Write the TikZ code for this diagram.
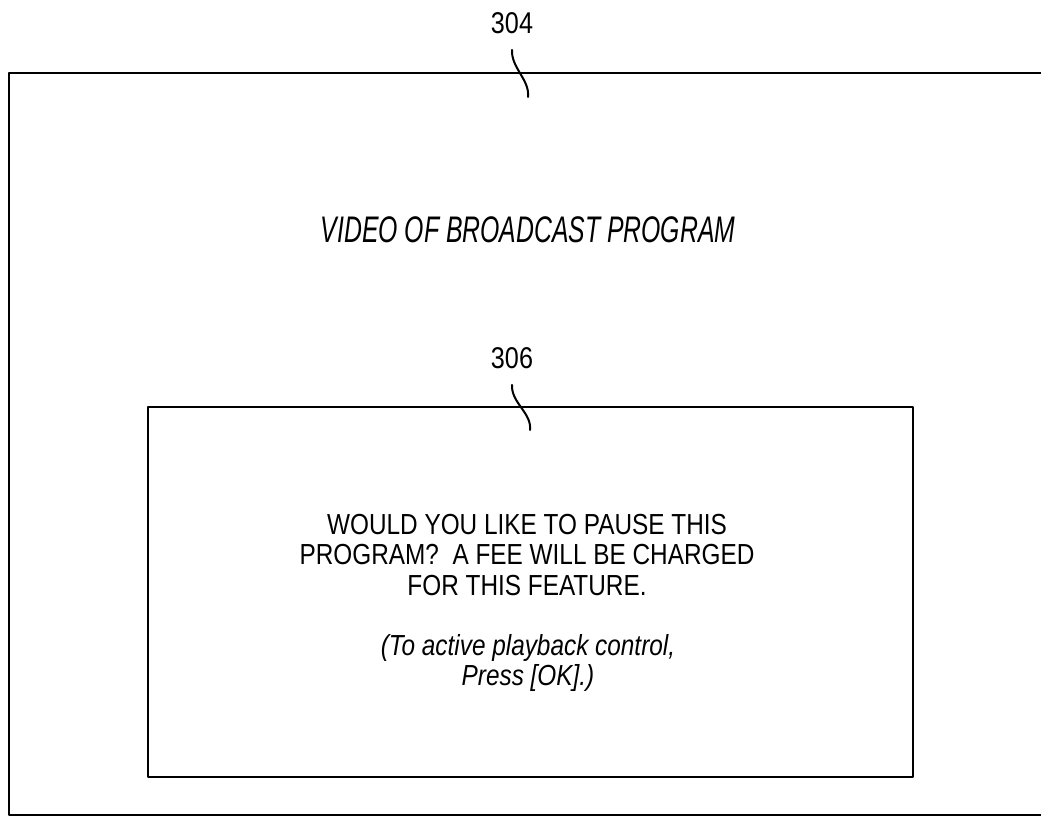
\documentclass[tikz,border=0pt]{standalone}
\usepackage{fontspec}
\setmainfont{Liberation Sans}[FakeStretch=0.84]
\newfontfamily\titlefont{Liberation Sans}[FakeStretch=0.67]
\usetikzlibrary{positioning}
\begin{document}
\begin{tikzpicture}[x=1pt, y=-1pt, line cap=round, line join=round,
  frame/.style={line width=2.6pt},
  lead/.style={line width=2pt},
  refnum/.style={inner sep=0pt, font=\fontsize{30}{30}\selectfont}]
	\useasboundingbox (0,0) rectangle (1041,822);
	% screen and pop-up window
	\draw[frame] (1050,73) -- (9,73) -- (9,815) -- (1050,815);
	\draw[frame] (148,407) rectangle (913,777);
	% reference numerals
	\node[refnum] (n304) at (512,23) {304};
	\coordinate (t304) at (528,97);
	\draw[lead] ([yshift=-16pt]n304.south) .. controls +(-1,18) and (530,80) .. (t304);
	\node[refnum] (n306) at (512,358) {306};
	\coordinate (t306) at (530,430);
	\draw[lead] ([yshift=-16pt]n306.south) .. controls +(-1,18) and (532,413) .. (t306);
	% texts
	\node[font=\titlefont\itshape\fontsize{37}{37}\selectfont] (video) at (528,230) {VIDEO OF BROADCAST PROGRAM};
	\node[align=center, font=\fontsize{29}{30.5}\selectfont] (msg) at (527,555)
		{WOULD YOU LIKE TO PAUSE THIS\\PROGRAM?~ A FEE WILL BE CHARGED\\FOR THIS FEATURE.};
	\node[align=center, font=\itshape\fontsize{29}{30.5}\selectfont] (hint) at (528,663)
		{(To active playback control,\\Press [OK].)};
\end{tikzpicture}
\end{document}
